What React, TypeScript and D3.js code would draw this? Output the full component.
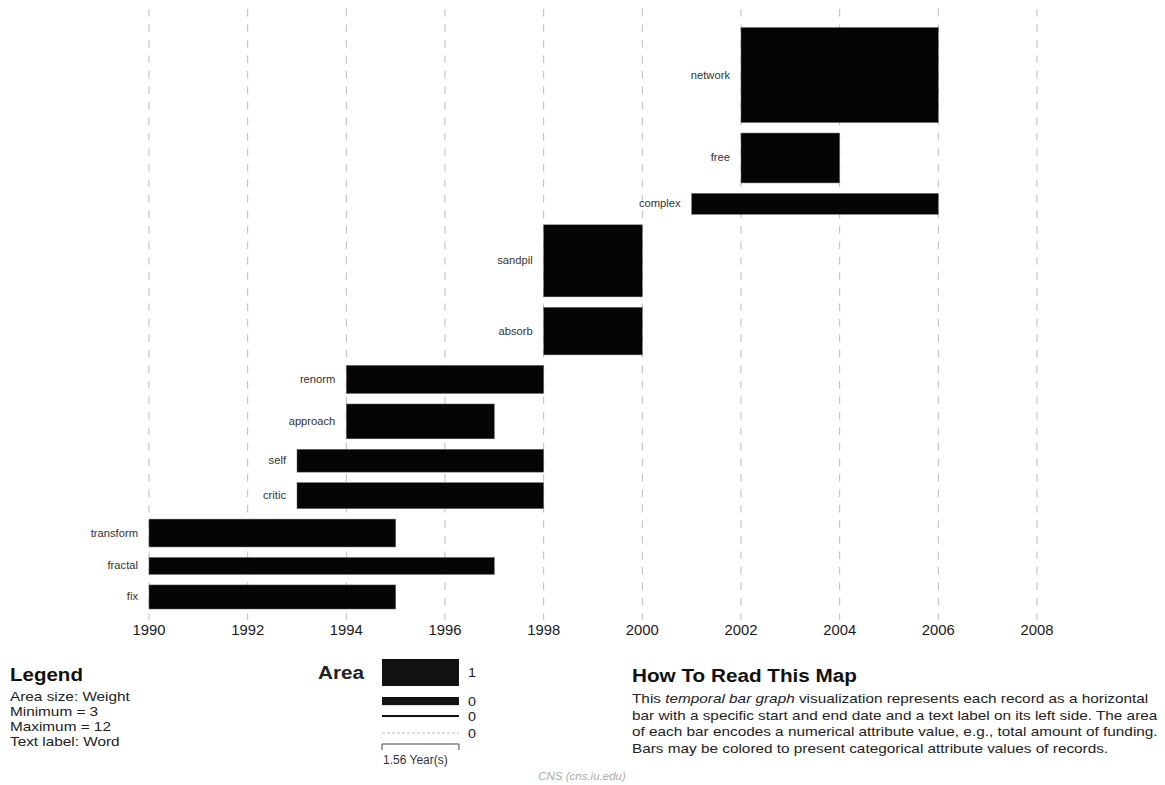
import React from "react";
import * as d3 from "d3";

// ---- data ----
const words = ["fix", "fractal", "transform", "critic", "self", "approach", "renorm", "absorb", "sandpil", "complex", "free", "network"];
const startYears = [1990, 1990, 1990, 1993, 1993, 1994, 1994, 1998, 1998, 2001, 2002, 2002];
const endYears = [1995, 1997, 1995, 1998, 1998, 1997, 1998, 2000, 2000, 2006, 2004, 2006];
const weights = [3.8, 3.75, 4.4, 4.1, 3.6, 3.3, 3.55, 3.0, 4.55, 3.3, 3.15, 12];
const yearTicks = [1990, 1992, 1994, 1996, 1998, 2000, 2002, 2004, 2006, 2008];

const legendLines = ["Area size: Weight", "Minimum = 3", "Maximum = 12", "Text label: Word"];
const areaLegendWeights = [1.33, 0.4, 0.1, 0];
const areaLegendLabels = ["1", "0", "0", "0"];
const areaLegendSpan = 1.56;

const FONT = "'Liberation Sans', Arial, Helvetica, sans-serif";

function SText(props: { x: number; y: number; sx?: number; anchor?: string; size: number; fill?: string; weight?: string; italic?: boolean; dy?: string; children: React.ReactNode }) {
  const { x, y, sx = 1, anchor = "start", size, fill = "#222", weight = "normal", italic = false, dy, children } = props;
  return (
    <g transform={`translate(${x},${y}) scale(${sx},1)`}>
      <text x={0} y={0} dy={dy} textAnchor={anchor as any} fontSize={size} fill={fill} fontWeight={weight} fontStyle={italic ? "italic" : "normal"}>
        {children}
      </text>
    </g>
  );
}

export default function App() {
  const W = 1165, H = 785;
  const x = d3.scaleLinear().domain([1990, 2008]).range([149, 1037]);
  const pxPerYear = x(1991) - x(1990);
  const areaPerWeight = d3.scaleLinear().domain([0, 12]).range([0, 12 * 31.67 * pxPerYear]);
  const heightOf = (w: number, years: number) => areaPerWeight(w) / (years * pxPerYear);

  const gap = 10.5;
  const baseY = 609;
  let cur = baseY;
  const bars = words.map((w, i) => {
    const h = heightOf(weights[i], endYears[i] - startYears[i]);
    const y0 = cur - h;
    cur = y0 - gap;
    return { word: w, x0: x(startYears[i]), x1: x(endYears[i]), y0, h };
  });

  const legendX0 = 382;
  const legendW = areaLegendSpan * pxPerYear;
  const legendYs = [659, 697, 715, 733];

  const bodyLines: React.ReactNode[] = [
    <>This <tspan fontStyle="italic">temporal bar graph</tspan> visualization represents each record as a horizontal</>,
    <>bar with a specific start and end date and a text label on its left side. The area</>,
    <>of each bar encodes a numerical attribute value, e.g., total amount of funding.</>,
    <>Bars may be colored to present categorical attribute values of records.</>,
  ];

  return (
    <svg width={W} height={H} style={{ position: "absolute", left: 0, top: 0, fontFamily: FONT }}>
      <rect width={W} height={H} fill="#fff" />
      {yearTicks.map((t) => (
        <line key={t} x1={x(t)} x2={x(t)} y1={9} y2={620} stroke="#bbb" strokeWidth={1} strokeDasharray="7.5,8" />
      ))}
      {bars.map((b) => (
        <g key={b.word}>
          <rect x={b.x0} y={b.y0} width={b.x1 - b.x0} height={b.h} fill="#050505" stroke="#666" strokeWidth={0.5} />
          <SText x={b.x0 - 11} y={b.y0 + b.h / 2} dy="0.35em" anchor="end" size={10} sx={1.12} fill="#333">
            {b.word}
          </SText>
        </g>
      ))}
      {yearTicks.map((t) => (
        <SText key={t} x={x(t)} y={635} anchor="middle" size={14} sx={1.06} fill="#1a1a1a">
          {t}
        </SText>
      ))}

      {/* Legend */}
      <SText x={10} y={681} size={19} sx={1.08} weight="bold" fill="#111">Legend</SText>
      {legendLines.map((l, i) => (
        <SText key={l} x={10} y={701 + i * 15} size={13} sx={1.18} fill="#222">{l}</SText>
      ))}

      {/* Area legend */}
      <SText x={318} y={679} size={19} sx={1.09} weight="bold" fill="#222">Area</SText>
      {areaLegendWeights.map((w, i) => {
        const h = heightOf(w, areaLegendSpan);
        const y = legendYs[i];
        return (
          <g key={i}>
            {w > 0 ? (
              <rect x={legendX0} y={y} width={legendW} height={Math.max(h, 1.5)} fill="#111" />
            ) : (
              <line x1={legendX0} x2={legendX0 + legendW} y1={y} y2={y} stroke="#aaa" strokeWidth={0.8} strokeDasharray="3,2" />
            )}
            <SText x={legendX0 + legendW + 9} y={y + Math.max(h, 1.5) / 2} dy="0.35em" size={13} sx={1.1} fill="#222">
              {areaLegendLabels[i]}
            </SText>
          </g>
        );
      })}
      <path d={`M${legendX0},750V744H${legendX0 + legendW}V750`} fill="none" stroke="#444" strokeWidth={1} />
      <text x={legendX0 + 1} y={764} fontSize={12} fill="#333">{areaLegendSpan} Year(s)</text>

      {/* How to read */}
      <SText x={632} y={682} size={19} sx={1.09} weight="bold" fill="#111">How To Read This Map</SText>
      {bodyLines.map((l, i) => (
        <SText key={i} x={632} y={703 + i * 16.5} size={13} sx={1.18} fill="#222">{l}</SText>
      ))}

      <text x={582} y={780} textAnchor="middle" fontSize={11.5} fontStyle="italic" fill="#aaa">CNS (cns.iu.edu)</text>
    </svg>
  );
}
